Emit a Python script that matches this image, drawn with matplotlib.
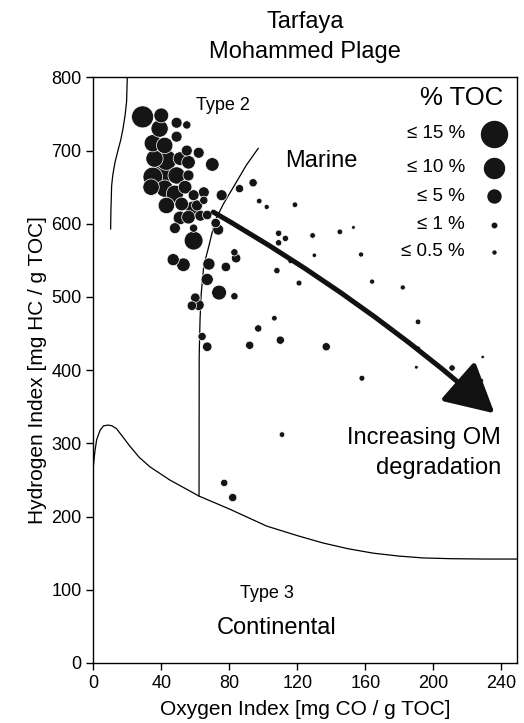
import numpy as np
import matplotlib.pyplot as plt
from matplotlib.patches import FancyArrowPatch

plt.rcParams['font.family'] = ['Liberation Sans', 'DejaVu Sans']

# ---- Datos: índice de oxígeno (OI), índice de hidrógeno (HI), TOC (%) ----
oi = [29, 40, 39, 49, 55, 49, 35, 42, 55, 62,
      36, 43, 51, 56, 70, 35, 40, 49, 56, 34,
      42, 48, 54, 59, 65, 43, 52, 61, 65, 75.5,
      86, 94, 59, 51, 48, 56, 63, 67, 59, 59,
      72, 73.5, 83, 84, 47, 53, 68, 78, 67, 74,
      83, 60, 58, 62, 64, 67, 97, 92, 110, 106.5,
      108, 116, 97.6, 102, 118.6, 109, 113, 109, 129, 130,
      145, 153, 157.5, 121, 164, 182, 191, 191, 190, 211,
      229, 228.5, 137, 158, 111, 77, 82]
hi = [746, 748, 730, 738, 735, 719, 710, 707, 700, 697,
      689, 687, 689, 684, 681, 664, 666, 666, 666, 650,
      648, 641, 650, 639, 643, 625, 627, 625, 632, 639,
      648, 656, 620, 608, 594, 609, 611, 612, 594, 577,
      601, 592, 561, 553, 551, 544, 545, 541, 524, 506,
      501, 499, 488, 489, 446, 432, 457, 434, 441, 471,
      536, 549, 631, 623, 626, 587, 580, 574, 584, 557,
      589, 595, 558, 519, 521, 513, 466, 430, 404, 403,
      418, 386, 432, 389, 312, 246, 226]
toc = [9.5, 5, 6.5, 3.4, 2.3, 3.4, 6.5, 6, 3.4, 3.4,
       6.5, 8.5, 4.5, 4.5, 4.5, 8, 10, 6.5, 3.4, 6,
       6.5, 6.5, 4.5, 3.4, 3.4, 6, 4.5, 3.4, 2.3, 3.4,
       2.3, 2.3, 6, 4.5, 3.4, 4.5, 3.4, 2.8, 2.3, 7.5,
       2.8, 3.4, 1.9, 2.8, 3.9, 4.5, 3.9, 2.8, 3.9, 5,
       1.9, 2.8, 2.8, 3.4, 2.3, 2.8, 1.9, 2.3, 2.3, 1.2,
       1.5, 1.0, 1.2, 1.0, 1.2, 1.5, 1.5, 1.5, 1.2, 0.8,
       1.2, 0.6, 1.0, 1.3, 1.0, 1.0, 1.2, 0.8, 0.6, 1.5,
       0.5, 0.6, 2.3, 1.3, 1.2, 1.9, 2.3]

# ---- Leyenda de tamaños (% TOC) ----
legend_toc = [15, 10, 5, 1, 0.5]
legend_labels = ['≤ 15 %', '≤ 10 %', '≤ 5 %', '≤ 1 %', '≤ 0.5 %']
legend_diam_px = [26, 20, 13, 4.5, 3]   # diámetro medido en la figura

# ---- Curvas de los límites (OI, HI) ----
type2_x = [20, 19.6, 18.7, 17.5, 16.2, 14.5, 12.8, 11.5, 10.8, 10.4, 10.2]
type2_y = [800, 767, 748, 730, 715, 700, 684, 667, 652, 620, 593]

marine_x = [97, 90, 82.4, 76.5, 71.6, 67.6, 65, 63.5, 62.8, 62.3, 62.2]
marine_y = [703, 680, 650, 627, 604, 566, 543, 505, 470, 420, 228]

type3_x = [0, 1, 2, 4, 6, 8.8, 11, 13.7, 17, 21.6, 27, 33.3, 45, 62.2,
           80.4, 102, 120, 135, 150, 164.7, 180, 194, 210, 230, 249]
type3_y = [268, 290, 305, 318, 324, 325, 324, 320, 310, 296, 281, 268, 250, 228,
           210, 187, 174, 164, 156, 150, 146, 143.5, 142.5, 142, 142]


def toc_to_size(t):
    """Tamaño de marcador (pt^2) a partir del % TOC."""
    order = np.argsort(legend_toc)
    d_px = np.interp(t, np.array(legend_toc)[order], np.array(legend_diam_px)[order])
    return (d_px * 0.72) ** 2


fig = plt.figure(figsize=(5.24, 7.23), dpi=100)
ax = fig.add_axes([0.178, 0.083, 0.808, 0.810])

ax.plot(type2_x, type2_y, color='k', lw=0.9)
ax.plot(marine_x, marine_y, color='k', lw=0.9)
ax.plot(type3_x, type3_y, color='k', lw=0.9)

# puntos: los más grandes primero para que los pequeños queden encima
order = np.argsort(toc)[::-1]
ax.scatter(np.array(oi)[order], np.array(hi)[order],
           s=toc_to_size(np.array(toc)[order]) * 1.3,
           color='#151515', edgecolors='white', linewidths=0.5, zorder=3)

# flecha de degradación
arr = FancyArrowPatch((70.6, 616), (236, 341), connectionstyle='arc3,rad=-0.05',
                      arrowstyle='-|>,head_length=1.5,head_width=0.8',
                      mutation_scale=20, color='#111111', lw=3.6, zorder=4,
                      shrinkA=0, shrinkB=0)
ax.add_patch(arr)

# textos
ax.text(76, 762, 'Type 2', fontsize=13, ha='center', va='center')
ax.text(134, 686, 'Marine', fontsize=17, ha='center', va='center')
ax.text(102, 95, 'Type 3', fontsize=13, ha='center', va='center')
ax.text(108, 48, 'Continental', fontsize=17, ha='center', va='center')
ax.text(240, 308, 'Increasing OM', fontsize=17, ha='right', va='center')
ax.text(240, 267, 'degradation', fontsize=17, ha='right', va='center')

# leyenda manual
ax.text(0.870, 0.964, '% TOC', transform=ax.transAxes, fontsize=18.5,
        ha='center', va='center')
rows_y = [0.904, 0.846, 0.797, 0.748, 0.702]
for yy, t, lab in zip(rows_y, legend_toc, legend_labels):
    ax.text(0.878, yy, lab, transform=ax.transAxes, fontsize=13.5,
            ha='right', va='center')
    ax.scatter([0.946], [yy], s=toc_to_size(t), color='#151515',
               transform=ax.transAxes, clip_on=False, zorder=3)

ax.set_xlim(0, 249)
ax.set_ylim(0, 800)
ax.set_xticks(np.arange(0, 241, 40))
ax.set_yticks(np.arange(0, 801, 100))
ax.tick_params(direction='out', length=5, width=1, labelsize=13)
ax.set_xlabel('Oxygen Index [mg CO / g TOC]', fontsize=15, labelpad=6)
ax.set_ylabel('Hydrogen Index [mg HC / g TOC]', fontsize=15, labelpad=3)
for sp in ax.spines.values():
    sp.set_linewidth(1)

ax.text(0.5, 1.094, 'Tarfaya', transform=ax.transAxes, fontsize=17,
        ha='center', va='center')
ax.text(0.5, 1.043, 'Mohammed Plage', transform=ax.transAxes, fontsize=17,
        ha='center', va='center')

fig.savefig('out.png', dpi=100)
